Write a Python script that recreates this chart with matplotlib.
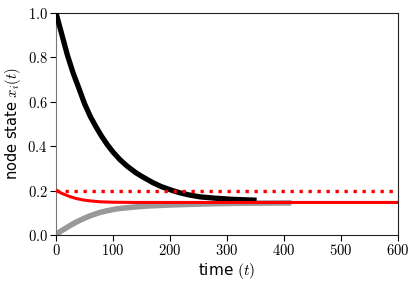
import matplotlib
matplotlib.use("Agg")
import matplotlib.pyplot as plt

plt.rcParams['mathtext.fontset'] = 'cm'

# black node (starts at 1.0)
black_t = [0, 10, 20, 30, 40, 50, 60, 70, 80, 90, 100, 112, 125, 140, 150, 170, 185, 205, 218, 235, 253, 280, 310, 352]
black_v = [1.0, 0.905, 0.81, 0.73, 0.662, 0.592, 0.535, 0.488, 0.445, 0.407, 0.374, 0.34, 0.31, 0.281, 0.265,
           0.236, 0.218, 0.2, 0.19, 0.18, 0.172, 0.166, 0.161, 0.157]

# gray node (starts at 0.0)
gray_t = [0, 10, 24.6, 35, 48, 60, 77, 90, 106, 120, 135, 160, 194, 230, 270, 311, 360, 413]
gray_v = [0.003, 0.020, 0.043, 0.058, 0.074, 0.087, 0.102, 0.110, 0.118, 0.122, 0.126, 0.131, 0.135, 0.138,
          0.141, 0.143, 0.144, 0.145]

# red node (starts at 0.2)
red_t = [0, 10, 24.6, 35, 48, 60, 77, 100, 140, 200, 300, 400, 500, 600]
red_v = [0.203, 0.188, 0.173, 0.165, 0.158, 0.154, 0.150, 0.148, 0.147, 0.147, 0.147, 0.147, 0.147, 0.147]

# red reference level
ref_t = [0, 600]
ref_v = [0.2, 0.2]

xticks = [0, 100, 200, 300, 400, 500, 600]
yticks = [0.0, 0.2, 0.4, 0.6, 0.8, 1.0]

fig = plt.figure(figsize=(4.15, 2.86), dpi=100)
ax = fig.add_axes([0.135, 0.178, 0.824, 0.7765])

ax.plot(gray_t, gray_v, color='#999999', lw=4.0, solid_capstyle='butt', zorder=2)
ax.plot(black_t, black_v, color='black', lw=3.8, solid_capstyle='butt', solid_joinstyle='round', zorder=3)
ax.plot(red_t, red_v, color='#ff0000', lw=2.2, solid_capstyle='butt', zorder=4)
ax.plot(ref_t, ref_v, color='#ff0000', lw=2.4, dashes=(1, 1.7), zorder=4)

ax.set_xlim(0, 600)
ax.set_ylim(0, 1.0)
ax.set_xticks(xticks)
ax.set_yticks(yticks)
ax.set_xticklabels([f'${v}$' for v in xticks], fontsize=10.5)
ax.set_yticklabels([f'${v:.1f}$' for v in yticks], fontsize=10.5)
ax.tick_params(direction='out', length=4, width=0.8, top=False, right=False, pad=2)

ax.set_xlabel('time $(t)$', fontsize=11, labelpad=2)
ax.set_ylabel('node state $x_i(t)$', fontsize=10.5, labelpad=3)

ax.spines['left'].set_color('#777777')
for s in ['top', 'right', 'bottom']:
    ax.spines[s].set_color('#222222')

fig.savefig('out.png', dpi=100)
